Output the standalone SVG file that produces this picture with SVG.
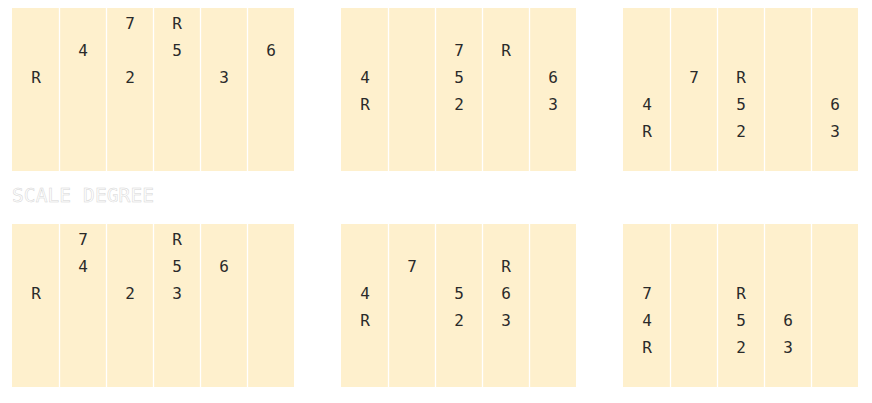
<svg xmlns="http://www.w3.org/2000/svg" width="872" height="403" viewBox="0 0 872 403">
<style>
.bg{fill:#fef0cd}
.sep{stroke:#ffffff;stroke-width:1.3}
.t{font-family:"DejaVu Sans Mono","Liberation Mono",monospace;font-size:16px;fill:#2a2a2a;text-anchor:middle;dominant-baseline:central}
.title{font-family:"DejaVu Sans Mono","Liberation Mono",monospace;font-size:19.5px;fill:#ffffff;stroke:#d4d4d4;stroke-width:0.5}
</style>
<rect width="872" height="403" fill="#ffffff"/>
<defs>
<g id="sep6"><path class="sep" d="M47.5 0V163M94.5 0V163M141.5 0V163M188.5 0V163M235.5 0V163"/></g>
<g id="sep5"><path class="sep" d="M47.5 0V163M94.5 0V163M141.5 0V163M188.5 0V163"/></g>
</defs>
<g id="panel-top-left" transform="translate(12,8)">
<rect class="bg" width="282" height="163"/><use href="#sep6"/>
<text class="t" x="24" y="69">R</text><text class="t" x="71" y="42">4</text><text class="t" x="118" y="15">7</text><text class="t" x="118" y="69">2</text><text class="t" x="165" y="15">R</text><text class="t" x="165" y="42">5</text><text class="t" x="212" y="69">3</text><text class="t" x="259" y="42">6</text>
</g>
<g id="panel-top-middle" transform="translate(341,8)">
<rect class="bg" width="235" height="163"/><use href="#sep5"/>
<text class="t" x="24" y="69">4</text><text class="t" x="24" y="96">R</text><text class="t" x="118" y="42">7</text><text class="t" x="118" y="69">5</text><text class="t" x="118" y="96">2</text><text class="t" x="165" y="42">R</text><text class="t" x="212" y="69">6</text><text class="t" x="212" y="96">3</text>
</g>
<g id="panel-top-right" transform="translate(623,8)">
<rect class="bg" width="235" height="163"/><use href="#sep5"/>
<text class="t" x="24" y="96">4</text><text class="t" x="24" y="123">R</text><text class="t" x="71" y="69">7</text><text class="t" x="118" y="69">R</text><text class="t" x="118" y="96">5</text><text class="t" x="118" y="123">2</text><text class="t" x="212" y="96">6</text><text class="t" x="212" y="123">3</text>
</g>
<text id="label" class="title" x="12" y="202" textLength="142">SCALE DEGREE</text>
<g id="panel-bottom-left" transform="translate(12,224)">
<rect class="bg" width="282" height="163"/><use href="#sep6"/>
<text class="t" x="24" y="69">R</text><text class="t" x="71" y="15">7</text><text class="t" x="71" y="42">4</text><text class="t" x="118" y="69">2</text><text class="t" x="165" y="15">R</text><text class="t" x="165" y="42">5</text><text class="t" x="165" y="69">3</text><text class="t" x="212" y="42">6</text>
</g>
<g id="panel-bottom-middle" transform="translate(341,224)">
<rect class="bg" width="235" height="163"/><use href="#sep5"/>
<text class="t" x="71" y="42">7</text><text class="t" x="165" y="42">R</text><text class="t" x="24" y="69">4</text><text class="t" x="118" y="69">5</text><text class="t" x="165" y="69">6</text><text class="t" x="24" y="96">R</text><text class="t" x="118" y="96">2</text><text class="t" x="165" y="96">3</text>
</g>
<g id="panel-bottom-right" transform="translate(623,224)">
<rect class="bg" width="235" height="163"/><use href="#sep5"/>
<text class="t" x="24" y="69">7</text><text class="t" x="118" y="69">R</text><text class="t" x="24" y="96">4</text><text class="t" x="118" y="96">5</text><text class="t" x="165" y="96">6</text><text class="t" x="24" y="123">R</text><text class="t" x="118" y="123">2</text><text class="t" x="165" y="123">3</text>
</g>
<g id="connectors"/>
</svg>
